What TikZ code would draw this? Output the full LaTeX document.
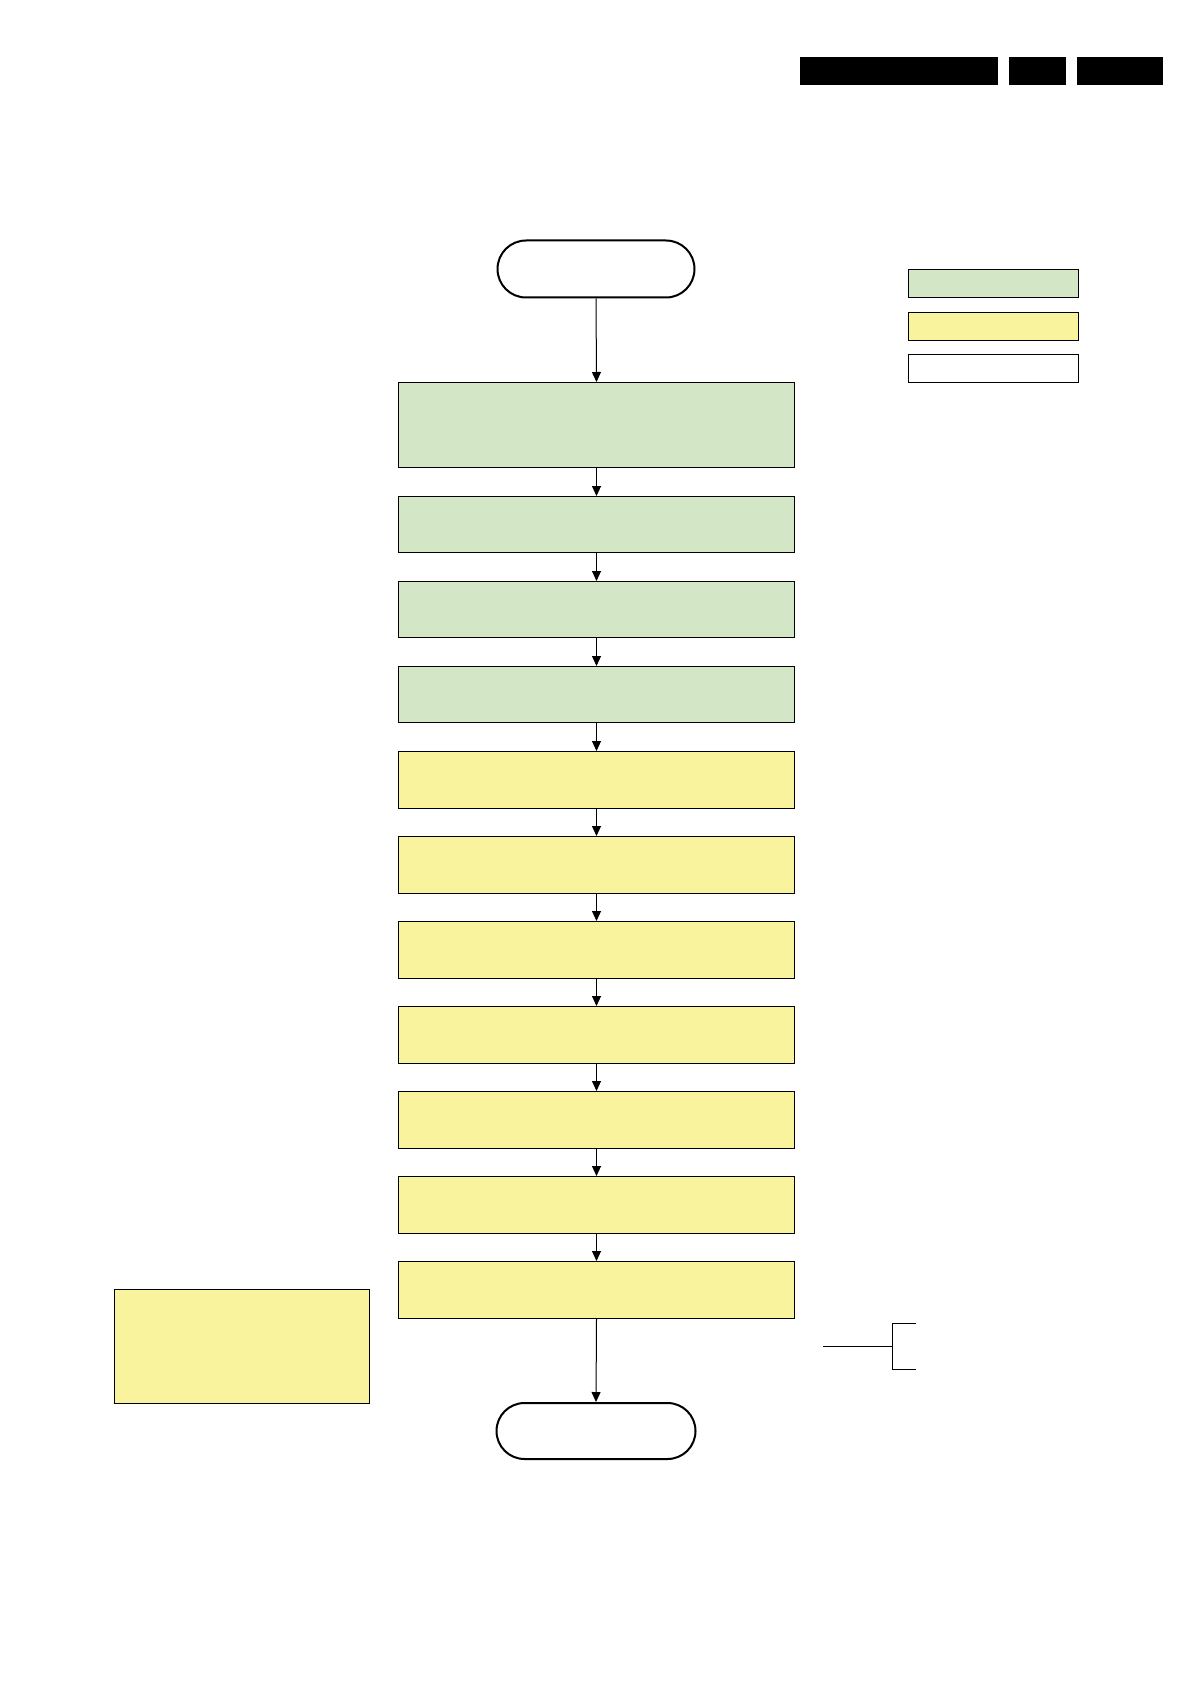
\documentclass[tikz,border=0pt]{standalone}
\usetikzlibrary{arrows.meta,shapes.misc}
\definecolor{stepgreen}{RGB}{211,230,197}
\definecolor{stepyellow}{RGB}{250,243,157}
\begin{document}
\begin{tikzpicture}[x=1pt,y=-1pt,
  bar/.style={draw=none,fill=black,inner sep=0pt,anchor=north west},
  box/.style={draw=black,line width=1pt,inner sep=0pt,anchor=north west},
  greenbox/.style={box,fill=stepgreen},
  yellowbox/.style={box,fill=stepyellow},
  whitebox/.style={box,fill=white},
  term/.style={draw=black,line width=2pt,rounded rectangle,inner sep=0pt,fill=white},
  flow/.style={draw=black,line width=1pt,-{Triangle[length=10pt,width=9pt]}},
  plain/.style={draw=black,line width=1pt}]
\useasboundingbox (0,0) rectangle (1192,1685);
% header bars
\node[bar,minimum width=198pt,minimum height=28pt] (h1) at (800,57) {};
\node[bar,minimum width=57pt,minimum height=28pt] (h2) at (1009,57) {};
\node[bar,minimum width=86pt,minimum height=28pt] (h3) at (1077,57) {};
% legend
\node[greenbox,minimum width=170pt,minimum height=28pt] (lg) at (908,269) {};
\node[yellowbox,minimum width=170pt,minimum height=28pt] (ly) at (908,312) {};
\node[whitebox,minimum width=170pt,minimum height=28pt] (lw) at (908,354) {};
% terminals
\node[term,minimum width=197pt,minimum height=57pt] (start) at (596,269) {};
\node[term,minimum width=199pt,minimum height=56pt] (stop) at (596,1431) {};
% process boxes
\node[greenbox,minimum width=396pt,minimum height=85pt] (g1) at (398,382) {};
\node[greenbox,minimum width=396pt,minimum height=56pt] (g2) at (398,496) {};
\node[greenbox,minimum width=396pt,minimum height=56pt] (g3) at (398,581) {};
\node[greenbox,minimum width=396pt,minimum height=56pt] (g4) at (398,666) {};
\node[yellowbox,minimum width=396pt,minimum height=57pt] (y1) at (398,751) {};
\node[yellowbox,minimum width=396pt,minimum height=57pt] (y2) at (398,836) {};
\node[yellowbox,minimum width=396pt,minimum height=57pt] (y3) at (398,921) {};
\node[yellowbox,minimum width=396pt,minimum height=57pt] (y4) at (398,1006) {};
\node[yellowbox,minimum width=396pt,minimum height=57pt] (y5) at (398,1091) {};
\node[yellowbox,minimum width=396pt,minimum height=57pt] (y6) at (398,1176) {};
\node[yellowbox,minimum width=396pt,minimum height=57pt] (y7) at (398,1261) {};
% note box
\node[yellowbox,minimum width=255pt,minimum height=114pt] (note) at (114,1289) {};
% connectors
\draw[flow] (start.south) -- (g1.north);
\draw[flow] (g1.south) -- (g2.north);
\draw[flow] (g2.south) -- (g3.north);
\draw[flow] (g3.south) -- (g4.north);
\draw[flow] (g4.south) -- (y1.north);
\draw[flow] (y1.south) -- (y2.north);
\draw[flow] (y2.south) -- (y3.north);
\draw[flow] (y3.south) -- (y4.north);
\draw[flow] (y4.south) -- (y5.north);
\draw[flow] (y5.south) -- (y6.north);
\draw[flow] (y6.south) -- (y7.north);
\draw[flow] (y7.south) -- (stop.north);
% bracket
\coordinate (bl) at (823,1346);
\coordinate (bm) at (892,1346);
\coordinate (bt) at (916,1323);
\coordinate (bb) at (916,1369);
\draw[plain] (bl) -- (bm);
\draw[plain] (bt) -| (bm) |- (bb);
\end{tikzpicture}
\end{document}
